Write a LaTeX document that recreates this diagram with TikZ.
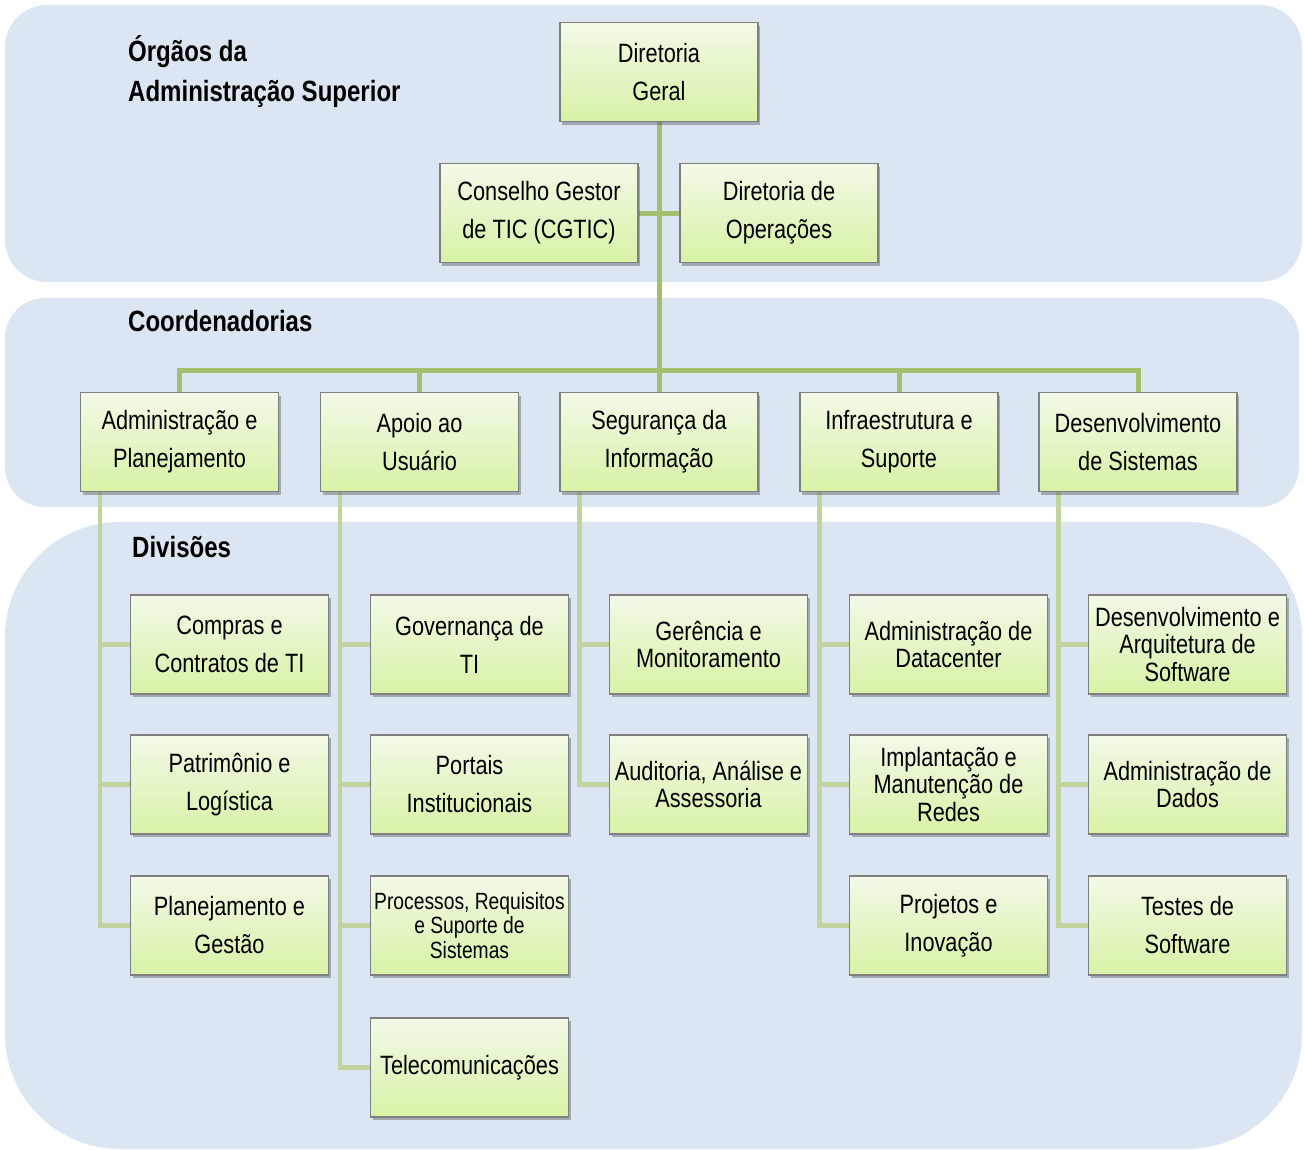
\documentclass[tikz,border=0pt]{standalone}
\usepackage{fontspec}
\setmainfont{Liberation Sans}[FakeStretch=0.82]
\usetikzlibrary{shadows}
\usetikzlibrary{backgrounds}

\definecolor{bandblue}{HTML}{DCE6F2}
\definecolor{boxtop}{HTML}{F2F9E8}
\definecolor{boxbot}{HTML}{D8F2A6}
\definecolor{boxline}{HTML}{7F7F7F}
\definecolor{trunkgreen}{HTML}{A3BF6E}
\definecolor{branchgreen}{HTML}{C1D49D}

\tikzset{
  unit/.style={draw=boxline,line width=1.1pt,top color=boxtop,bottom color=boxbot,
    minimum width=198pt,minimum height=99pt,inner sep=1pt,align=center,
    drop shadow={shadow xshift=2pt,shadow yshift=-3pt,opacity=.4,fill=black!70},
    font={\fontsize{26.5}{38}\selectfont}},
  tight/.style={font={\fontsize{26.5}{27.5}\selectfont}},
  small/.style={font={\fontsize{23.5}{24.5}\selectfont}},
  band/.style={fill=bandblue},
  heading/.style={anchor=north west,align=left,inner sep=0pt,font={\fontsize{29.3}{40}\selectfont\bfseries}},
  trunk/.style={draw=trunkgreen,line width=5pt},
  branch/.style={draw=branchgreen,line width=4.5pt}
}

\begin{document}
\begin{tikzpicture}[x=1pt,y=-1pt]
\useasboundingbox (0,0) rectangle (1304,1149);

% administracao superior
\node[unit] (dg) at (659,72) {Diretoria\\Geral};
\node[unit] (cg) at (539,213) {Conselho Gestor\\de TIC (CGTIC)};
\node[unit] (op) at (779,213) {Diretoria de\\Operações};

% coordenadorias
\node[unit] (adm) at (179.5,442) {Administração e\\Planejamento};
\node[unit] (apo) at (419.5,442) {Apoio ao\\Usuário};
\node[unit] (seg) at (659,442) {Segurança da\\Informação};
\node[unit] (inf) at (899,442) {Infraestrutura e\\Suporte};
\node[unit] (dev) at (1138,442) {Desenvolvimento\\de Sistemas};

% divisoes
\node[unit] (compras) at (229.5,644.5) {Compras e\\Contratos de TI};
\node[unit] (patrim) at (229.5,784.5) {Patrimônio e\\Logística};
\node[unit] (plan) at (229.5,925.5) {Planejamento e\\Gestão};

\node[unit] (gov) at (469.5,644.5) {Governança de\\TI};
\node[unit] (portais) at (469.5,784.5) {Portais\\Institucionais};
\node[unit,small] (proc) at (469.5,925.5) {Processos, Requisitos\\e Suporte de\\Sistemas};
\node[unit] (tele) at (469.5,1067.5) {Telecomunicações};

\node[unit,tight] (ger) at (708.5,644.5) {Gerência e\\Monitoramento};
\node[unit,tight] (aud) at (708.5,784.5) {Auditoria, Análise e\\Assessoria};

\node[unit,tight] (dc) at (948.5,644.5) {Administração de\\Datacenter};
\node[unit,tight] (redes) at (948.5,784.5) {Implantação e\\Manutenção de\\Redes};
\node[unit] (proj) at (948.5,925.5) {Projetos e\\Inovação};

\node[unit,tight] (arq) at (1187.5,644.5) {Desenvolvimento e\\Arquitetura de\\Software};
\node[unit,tight] (dados) at (1187.5,784.5) {Administração de\\Dados};
\node[unit] (testes) at (1187.5,925.5) {Testes de\\Software};

\begin{scope}[on background layer]
  \fill[band,rounded corners=42] (5,5) rectangle (1302,282);
  \fill[band,rounded corners=40] (5,298) rectangle (1299,507);
  \fill[band,rounded corners=115] (5,522) rectangle (1302,1149);

  \draw[trunk] (dg.south) -- (seg.north);
  \draw[trunk] (cg.east) -- (op.west);
  \draw[trunk] (adm.north) -- ++(0,-21) -| (dev.north);
  \draw[trunk] (apo.north) -- ++(0,-21);
  \draw[trunk] (inf.north) -- ++(0,-21);

  \foreach \c/\d in {adm/compras,adm/patrim,adm/plan,
                     apo/gov,apo/portais,apo/proc,apo/tele,
                     seg/ger,seg/aud,
                     inf/dc,inf/redes,inf/proj,
                     dev/arq,dev/dados,dev/testes}
    \draw[branch] ([xshift=20pt]\c.south west) |- (\d.west);
\end{scope}

\node[heading] (tsup) at (128,35) {Órgãos da\\Administração Superior};
\node[heading] (tcoord) at (128,310.5) {Coordenadorias};
\node[heading] (tdiv) at (132,536.5) {Divisões};
\end{tikzpicture}
\end{document}
